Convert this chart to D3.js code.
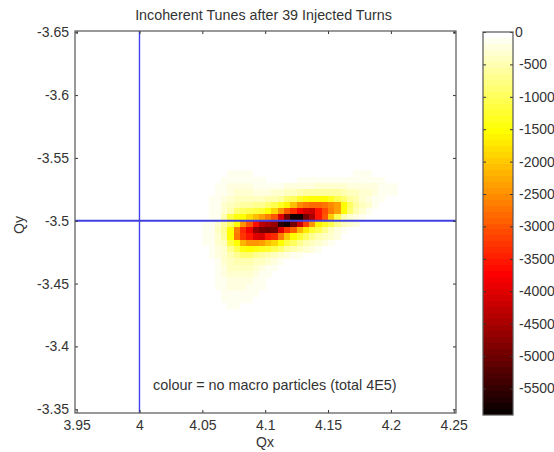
<!DOCTYPE html>
<html>
<head>
<meta charset="utf-8">
<script src="https://cdnjs.cloudflare.com/ajax/libs/d3/7.8.5/d3.min.js"></script>
<style>
html, body { margin: 0; padding: 0; background: #fff; }
svg { display: block; }
text { font-family: "Liberation Sans", Arial, sans-serif; fill: #333; }
</style>
</head>
<body>
<svg id="chart" width="554" height="452"></svg>
<script>
const xTicks = [3.95, 4, 4.05, 4.1, 4.15, 4.2, 4.25];
const yTicks = [-3.65, -3.6, -3.55, -3.5, -3.45, -3.4, -3.35];
const barTicks = [0, -500, -1000, -1500, -2000, -2500, -3000, -3500, -4000, -4500, -5000, -5500];

// left edge of each bin in Qx
const qxBins = [4.05, 4.055, 4.06, 4.065, 4.07, 4.075, 4.08, 4.085, 4.09, 4.095, 4.1, 4.105, 4.11, 4.115, 4.12, 4.125,
    4.13, 4.135, 4.14, 4.145, 4.15, 4.155, 4.16, 4.165, 4.17, 4.175, 4.18, 4.185, 4.19, 4.195, 4.2, 4.205];
// top edge of each bin in Qy
const qyBins = [-3.54, -3.535, -3.53, -3.525, -3.52, -3.515, -3.51, -3.505, -3.5, -3.495, -3.49, -3.485, -3.48,
    -3.475, -3.47, -3.465, -3.46, -3.455, -3.45, -3.445, -3.44, -3.435];
// no of macro particles per bin (shown negative), one row per qyBins entry
const counts = [
    [0,0,0,0,60,80,80,60,0,0,0,0,0,0,0,0,0,0,0,0,0,0,0,0,50,60,60,0,0,0,0,0],
    [0,0,0,60,100,120,120,120,100,50,0,0,0,0,0,50,60,80,100,110,110,110,110,110,120,120,120,90,50,0,0,0],
    [0,0,50,100,160,180,180,170,130,100,90,110,130,170,170,200,220,230,280,280,280,260,260,230,210,180,180,170,120,70,50,0],
    [0,0,70,140,220,250,250,250,230,220,220,250,300,400,420,480,520,550,600,600,600,550,480,400,350,300,250,180,100,60,50,0],
    [0,60,120,200,300,350,400,400,400,400,450,500,600,800,950,1200,1400,1500,1500,1500,1300,1000,800,600,450,300,200,100,50,0,0,0],
    [0,60,100,250,400,500,600,600,650,700,800,1000,1300,1600,2100,2500,2700,2800,2800,2700,2500,2300,1500,900,600,400,250,100,0,0,0,0],
    [0,50,100,250,500,800,900,1000,1100,1200,1500,1900,2400,3000,3400,3800,4100,4200,3600,3100,2600,2300,1500,800,500,250,100,0,0,0,0,0],
    [0,50,100,500,1100,1400,1500,1800,2100,2300,2600,3000,4000,5000,5800,5800,5000,4500,3600,3000,2000,1000,500,300,200,100,0,0,0,0,0,0],
    [50,100,300,600,900,1500,2400,3000,3700,4300,4500,4700,5600,5800,5000,4200,3200,2400,1600,1300,1000,700,400,300,200,0,0,0,0,0,0,0],
    [50,100,350,700,1500,2600,3400,3800,4700,5000,5100,5000,4000,3300,2900,2200,1700,1200,1000,700,400,200,80,0,0,0,0,0,0,0,0,0],
    [50,100,300,600,1500,2700,3300,3600,4000,4100,3600,3400,2600,2000,1500,1200,900,650,500,400,300,200,0,0,0,0,0,0,0,0,0,0],
    [50,80,250,400,1100,1500,2200,2400,2400,2300,2100,1900,1500,1100,900,700,500,400,300,200,100,0,0,0,0,0,0,0,0,0,0,0],
    [0,80,200,300,700,1000,1400,1500,1400,1300,1200,1000,800,600,450,350,250,150,100,0,0,0,0,0,0,0,0,0,0,0,0,0],
    [0,60,150,280,500,700,800,800,700,600,500,400,300,200,120,60,0,0,0,0,0,0,0,0,0,0,0,0,0,0,0,0],
    [0,0,120,250,400,500,500,450,400,330,250,150,80,0,0,0,0,0,0,0,0,0,0,0,0,0,0,0,0,0,0,0],
    [0,0,100,220,330,400,350,330,280,200,100,60,0,0,0,0,0,0,0,0,0,0,0,0,0,0,0,0,0,0,0,0],
    [0,0,80,180,280,300,280,250,200,100,60,0,0,0,0,0,0,0,0,0,0,0,0,0,0,0,0,0,0,0,0,0],
    [0,0,60,140,220,230,220,180,130,80,0,0,0,0,0,0,0,0,0,0,0,0,0,0,0,0,0,0,0,0,0,0],
    [0,0,50,100,170,170,170,130,80,50,0,0,0,0,0,0,0,0,0,0,0,0,0,0,0,0,0,0,0,0,0,0],
    [0,0,0,70,120,120,120,90,60,0,0,0,0,0,0,0,0,0,0,0,0,0,0,0,0,0,0,0,0,0,0,0],
    [0,0,0,50,80,80,70,50,0,0,0,0,0,0,0,0,0,0,0,0,0,0,0,0,0,0,0,0,0,0,0,0],
    [0,0,0,0,50,50,0,0,0,0,0,0,0,0,0,0,0,0,0,0,0,0,0,0,0,0,0,0,0,0,0,0]
];

const box = { left: 75, right: 456, top: 31, bottom: 413 };
const bar = { left: 483, right: 513, top: 32, bottom: 415 };
const binWidth = 0.005;
const axisColor = '#555';
const minValue = -5910;

const svg = d3.select('#chart');

const x = d3.scaleLinear().domain([3.9487, 4.2518]).range([box.left, box.right]);
const y = d3.scaleLinear().domain([-3.651, -3.347]).range([box.top, box.bottom]);
const barY = d3.scaleLinear().domain([0, minValue]).range([bar.top, bar.bottom]);

// flipped hot(64), level 0 is white, level 63 almost black
function hotColor(level) {
    const r = Math.min(1, (64 - level) / 24);
    const g = Math.max(0, Math.min(1, (40 - level) / 24));
    const b = Math.max(0, Math.min(1, (16 - level) / 16));
    return d3.rgb(r * 255, g * 255, b * 255).formatRgb();
}
const level = v => Math.min(63, Math.round(v / -minValue * 63));

// heat map cells
const cells = [];
counts.forEach((row, i) => row.forEach((v, j) => {
    if (v > 0) cells.push({ qx: qxBins[j], qy: qyBins[i], v: v });
}));

svg.append('g').selectAll('rect')
    .data(cells)
    .enter().append('rect')
    .attr('x', d => x(d.qx))
    .attr('y', d => y(d.qy))
    .attr('width', x(binWidth) - x(0) + 0.4)
    .attr('height', y(binWidth) - y(0) + 0.4)
    .attr('shape-rendering', 'crispEdges')
    .attr('fill', d => hotColor(level(d.v)));

// crosshair at the nominal tune
svg.append('line')
    .attr('x1', x(4)).attr('x2', x(4))
    .attr('y1', box.top).attr('y2', box.bottom)
    .attr('stroke', '#4040f0').attr('stroke-width', 1.4);
svg.append('line')
    .attr('x1', box.left).attr('x2', box.right)
    .attr('y1', y(-3.5)).attr('y2', y(-3.5))
    .attr('stroke', '#4040e0').attr('stroke-width', 1.8);

function styleAxis(g, fontSize) {
    g.selectAll('.domain').remove();
    g.selectAll('line').attr('stroke', '#333').attr('stroke-width', 1);
    g.selectAll('text').attr('font-size', fontSize).style('fill', '#333');
}

// ticks on all four sides of the plot box
svg.append('g')
    .attr('transform', `translate(0,${box.bottom})`)
    .call(d3.axisBottom(x).tickValues(xTicks).tickFormat(d => d).tickSizeInner(-3).tickPadding(7))
    .call(styleAxis, 14);
svg.append('g')
    .attr('transform', `translate(0,${box.top})`)
    .call(d3.axisTop(x).tickValues(xTicks).tickFormat('').tickSizeInner(-3))
    .call(styleAxis, 14);
svg.append('g')
    .attr('transform', `translate(${box.left},0)`)
    .call(d3.axisLeft(y).tickValues(yTicks).tickFormat(d => d).tickSizeInner(-3).tickPadding(6))
    .call(styleAxis, 14);
svg.append('g')
    .attr('transform', `translate(${box.right},0)`)
    .call(d3.axisRight(y).tickValues(yTicks).tickFormat('').tickSizeInner(-3))
    .call(styleAxis, 14);

svg.append('rect')
    .attr('x', box.left).attr('y', box.top)
    .attr('width', box.right - box.left).attr('height', box.bottom - box.top)
    .attr('fill', 'none').attr('stroke', axisColor).attr('stroke-width', 1.2);

// colour bar
const barLevels = d3.range(64);
svg.append('g').selectAll('rect')
    .data(barLevels)
    .enter().append('rect')
    .attr('x', bar.left)
    .attr('y', d => barY(minValue * d / 64))
    .attr('width', bar.right - bar.left)
    .attr('height', (bar.bottom - bar.top) / 64 + 0.4)
    .attr('shape-rendering', 'crispEdges')
    .attr('fill', d => hotColor(d));

svg.append('g')
    .attr('transform', `translate(${bar.right},0)`)
    .call(d3.axisRight(barY).tickValues(barTicks).tickFormat(d => d).tickSizeInner(-3).tickPadding(6))
    .call(styleAxis, 14)
    .call(g => g.selectAll('.tick text').filter(d => d === 0).attr('dx', -4));
svg.append('g')
    .attr('transform', `translate(${bar.left},0)`)
    .call(d3.axisLeft(barY).tickValues(barTicks).tickFormat('').tickSizeInner(-3))
    .call(styleAxis, 14);

svg.append('rect')
    .attr('x', bar.left).attr('y', bar.top)
    .attr('width', bar.right - bar.left).attr('height', bar.bottom - bar.top)
    .attr('fill', 'none').attr('stroke', axisColor).attr('stroke-width', 1.2);

// labels
svg.append('text')
    .attr('x', 263.5).attr('y', 20)
    .attr('text-anchor', 'middle').attr('font-size', 14.3)
    .text('Incoherent Tunes after 39 Injected Turns');
svg.append('text')
    .attr('x', 265).attr('y', 447)
    .attr('text-anchor', 'middle').attr('font-size', 14)
    .text('Qx');
svg.append('text')
    .attr('transform', 'translate(24,225) rotate(-90)')
    .attr('text-anchor', 'middle').attr('font-size', 14)
    .text('Qy');
svg.append('text')
    .attr('x', 153).attr('y', 390)
    .attr('font-size', 14.4)
    .text('colour = no macro particles (total 4E5)');
</script>
</body>
</html>
